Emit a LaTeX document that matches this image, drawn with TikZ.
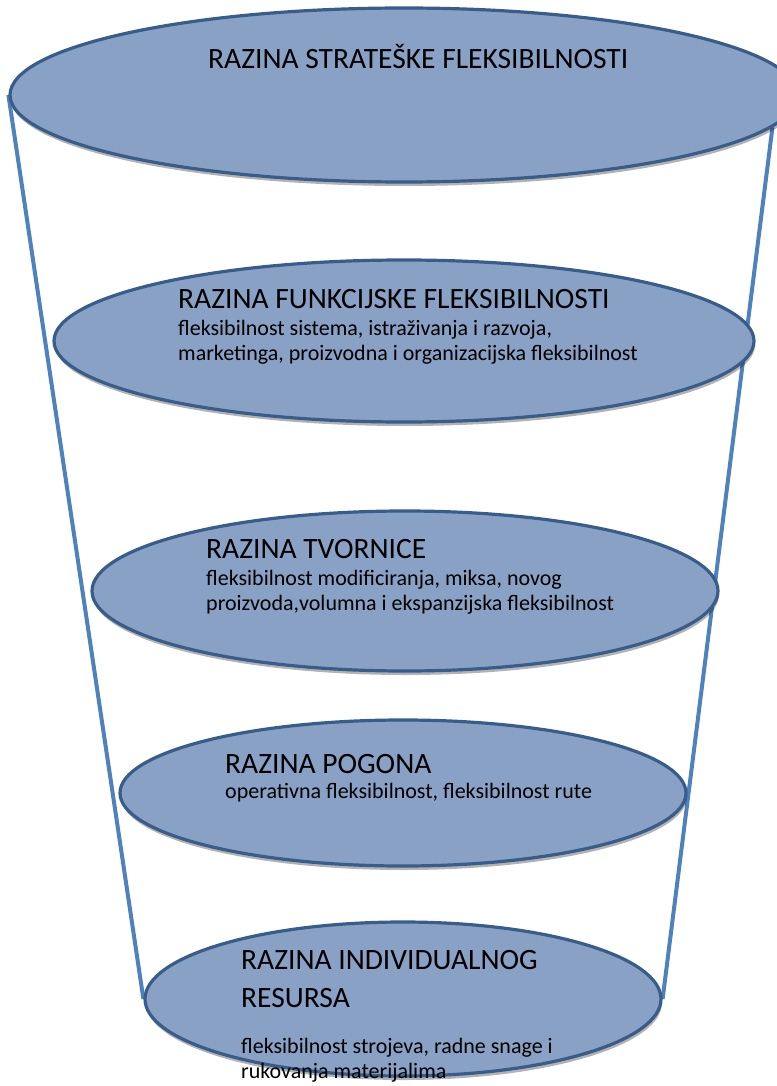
\documentclass[tikz,border=0pt]{standalone}
\usepackage{fontspec}
\setmainfont{Carlito}
\usetikzlibrary{shapes.geometric,shadows,backgrounds}
\definecolor{tierfill}{RGB}{137,161,197}
\definecolor{tieredge}{RGB}{56,93,138}
\definecolor{funnel}{RGB}{79,129,189}
\newcommand\tiertitle{\fontsize{29.5}{33}\selectfont}
\newcommand\tiersub{\fontsize{22}{25}\selectfont}
\tikzset{
  tier/.style={ellipse, draw=tieredge, line width=3.2pt, fill=tierfill, inner sep=0pt,
      drop shadow={shadow xshift=1pt, shadow yshift=-4pt, fill=black, opacity=.3}},
  tiertext/.style={anchor=base west, inner sep=0pt, text width=480pt, align=left, font=\tiersub,
      execute at begin node={\spaceskip=0pt\xspaceskip=0pt}},
  funnelline/.style={line width=4pt, funnel},
}
\begin{document}
\begin{tikzpicture}[x=1pt,y=-1pt]
      \useasboundingbox (0,0) rectangle (776,1086);

      \node [tier, minimum width=788pt, minimum height=174pt] (top) at (404,95) {};
      \node [tier, minimum width=700pt, minimum height=162pt] (fun) at (404,341) {};
      \node [tier, minimum width=626pt, minimum height=160pt] (tvo) at (405,591) {};
      \node [tier, minimum width=566pt, minimum height=146pt] (pog) at (403,793) {};
      \node [tier, minimum width=516pt, minimum height=154pt] (ind) at (403,999) {};

      \begin{scope}[on background layer]
        \draw [funnelline] (top.west) -- (ind.west);
        \draw [funnelline] (top.-5) -- (ind.east);
      \end{scope}

      \node [anchor=base west, inner sep=0pt, font=\tiertitle] (topTxt) at (208,69)
      {RAZINA STRATEŠKE FLEKSIBILNOSTI};

      \node [tiertext] (funTxt) at (178,308)
      {{\tiertitle RAZINA FUNKCIJSKE FLEKSIBILNOSTI}\\[2pt]
        fleksibilnost sistema, istraživanja i razvoja,\\
        marketinga, proizvodna i organizacijska fleksibilnost};

      \node [tiertext] (tvoTxt) at (206,558)
      {{\tiertitle RAZINA TVORNICE}\\[2pt]
        fleksibilnost modificiranja, miksa, novog\\
        proizvoda,volumna i ekspanzijska fleksibilnost};

      \node [tiertext] (pogTxt) at (225,773)
      {{\tiertitle RAZINA POGONA}\\
        operativna fleksibilnost, fleksibilnost rute};

      \node [tiertext] (indTxt) at (241,969)
      {{\tiertitle RAZINA INDIVIDUALNOG}\\[13pt]
        {\tiertitle RESURSA}\\[21pt]
        fleksibilnost strojeva, radne snage i\\
        rukovanja materijalima};
    \end{tikzpicture}
\end{document}
